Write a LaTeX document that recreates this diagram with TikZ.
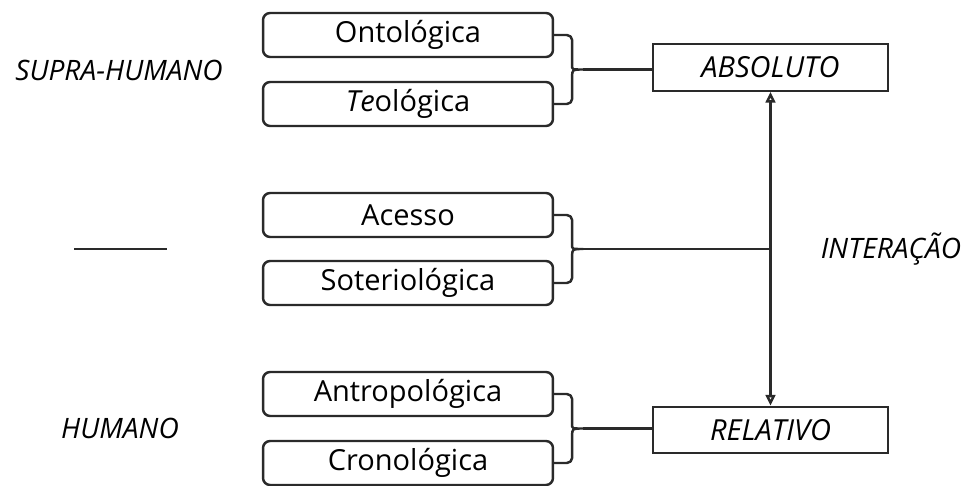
\documentclass[tikz,border=0pt]{standalone}
\usepackage{fontspec}
\setmainfont{Open Sans}
\usetikzlibrary{arrows.meta,calc}
\definecolor{ink}{HTML}{2A2A2A}
\tikzset{
  itembox/.style={draw=ink, line width=1.4pt, rounded corners=4pt,
    minimum width=5.8cm, minimum height=0.88cm, inner sep=0pt,
    font=\fontsize{16.5}{19}\selectfont},
  polebox/.style={draw=ink, line width=1.4pt, minimum width=4.7cm,
    minimum height=0.93cm, inner sep=0pt,
    font=\fontsize{16.5}{19}\selectfont\itshape},
  sidelabel/.style={font=\fontsize{16}{19}\selectfont\itshape, inner sep=0pt},
  brace/.style={draw=ink, line width=1.4pt, line join=round},
  link/.style={draw=ink, line width=1.4pt},
  tip/.style={{Triangle[open,width=5.5pt,length=6pt]}-{Triangle[open,width=5.5pt,length=6pt]}}
}
\begin{document}
\begin{tikzpicture}[x=0.02cm, y=-0.02cm]
  \useasboundingbox (0,0) rectangle (967,486);

  % left column of categories
  \node[itembox] (ont) at (408,35)  {Ontológica};
  \node[itembox] (teo) at (408,104) {\textit{Te}ológica};
  \node[itembox] (ace) at (408,215) {Acesso};
  \node[itembox] (sot) at (408,283) {Soteriológica};
  \node[itembox] (ant) at (408,394) {Antropológica};
  \node[itembox] (cro) at (408,463) {Cronológica};

  % the two poles
  \node[polebox] (abs) at (770.5,67.5) {ABSOLUTO};
  \node[polebox] (rel) at (770.5,430)  {RELATIVO};

  % side labels
  \node[sidelabel] (supra) at (119,70)  {SUPRA-HUMANO};
  \node[sidelabel] (hum)   at (120,428) {HUMANO};
  \node[sidelabel] (inter) at (891,249) {INTERAÇÃO};
  \coordinate (dashL) at (74,249);
  \coordinate (dashR) at (167,249);
  \draw[link] (dashL) -- (dashR);

  % braces joining each pair of boxes
  \foreach \up/\dn/\tp in {ont/teo/t1, ace/sot/t2, ant/cro/t3}{
    \path (\up.east) ++(18,0) coordinate (\up-a);
    \path (\dn.east) ++(18,0) coordinate (\dn-a);
    \coordinate (\tp-m) at ($(\up-a)!0.5!(\dn-a)$);
    \coordinate (\tp) at ($(\tp-m)+(11,0)$);
    \draw[brace] (\up.east) [rounded corners=3pt] -- (\up-a) -- ($(\tp-m)+(0,-7)$)
      [sharp corners] .. controls (\tp-m) .. (\tp)
      .. controls (\tp-m) .. ($(\tp-m)+(0,7)$)
      [rounded corners=3pt] -- (\dn-a) -- (\dn.east);
  }

  % interaction axis between the poles
  \draw[link, tip] (abs.south) -- (rel.north);
  \coordinate (axis) at (abs.south |- t2);

  % connectors from the braces
  \draw[link] (t1) -- (abs.west |- t1);
  \draw[link] (t2) -- (axis);
  \draw[link] (t3) -- (rel.west |- t3);
\end{tikzpicture}
\end{document}
